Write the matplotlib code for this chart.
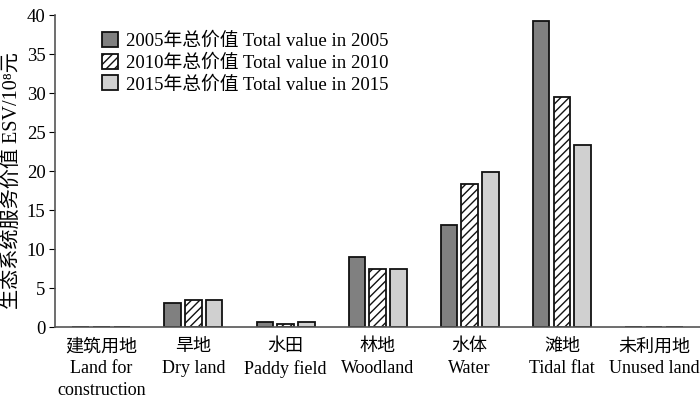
import numpy as np
import matplotlib
matplotlib.use("Agg")
from matplotlib import pyplot as plt

plt.rcParams['font.family'] = ['Liberation Serif', 'Noto Sans CJK SC']
plt.rcParams['hatch.linewidth'] = 1.0

categories = ['建筑用地\nLand for\nconstruction', '旱地\nDry land', '水田\nPaddy field',
              '林地\nWoodland', '水体\nWater', '滩地\nTidal flat', '未利用地\nUnused land']
v2005 = [0, 3.1, 0.7, 9.0, 13.1, 39.3, 0]
v2010 = [0, 3.5, 0.4, 7.5, 18.4, 29.5, 0]
v2015 = [0, 3.5, 0.6, 7.5, 19.9, 23.4, 0]
labels = ['2005年总价值 Total value in 2005',
          '2010年总价值 Total value in 2010',
          '2015年总价值 Total value in 2015']

x = np.arange(len(categories))
w = 0.18
step = 0.225

fig = plt.figure(figsize=(7, 3.98), dpi=100)
ax = fig.add_axes([0.079, 0.178, 0.921, 0.784])

ax.bar(x - step, v2005, w, color='#808080', edgecolor='#111111', linewidth=1.3, label=labels[0])
ax.bar(x, v2010, w, color='white', edgecolor='#111111', hatch='////', linewidth=1.3, label=labels[1])
ax.bar(x + step, v2015, w, color='#d0d0d0', edgecolor='#111111', linewidth=1.3, label=labels[2])

ax.set_xlim(-0.5, 6.5)
ax.set_ylim(0, 40)
ax.set_yticks(range(0, 41, 5))
ax.set_xticks(x)
ax.set_xticklabels(categories, fontsize=13, linespacing=1.38)
ax.tick_params(axis='x', length=0, pad=8)
ax.tick_params(axis='y', labelsize=13.5, length=4, direction='out', pad=3)
ax.set_ylabel('生态系统服务价值 ESV/10⁸元', fontsize=14.5)
ax.yaxis.set_label_coords(-0.052, 0.47)

for s in ['top', 'right']:
    ax.spines[s].set_visible(False)
for s in ['left', 'bottom']:
    ax.spines[s].set_color('#555555')
    ax.spines[s].set_linewidth(1.2)

ax.legend(loc='upper left', bbox_to_anchor=(0.047, 1.0), frameon=False, fontsize=13.5,
          handlelength=0.85, handleheight=0.85, handletextpad=0.4, labelspacing=0.2)

fig.savefig('out.png', dpi=100)
